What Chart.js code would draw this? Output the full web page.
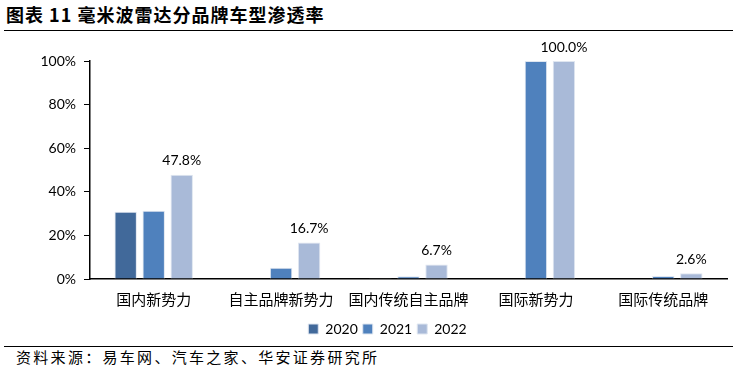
<!DOCTYPE html>
<html>
<head>
<meta charset="utf-8">
<script src="https://cdn.jsdelivr.net/npm/chart.js@4"></script>
<style>
  body { margin: 0; background: #fff; width: 737px; height: 373px; position: relative; overflow: hidden; }
  #title { position: absolute; left: 6px; top: 1px; font: bold 18px "Noto Sans CJK SC", sans-serif; color: #000; letter-spacing: 1px; }
  .rule { position: absolute; left: 4px; width: 729px; height: 0; border-top: 1.5px solid #000; }
  #box { position: absolute; left: 0; top: 36px; width: 737px; height: 308px; }
  #source { position: absolute; left: 16px; top: 346px; font: 15px "Noto Sans CJK SC", serif; color: #000; letter-spacing: 2.3px; }
</style>
</head>
<body>
<div id="title">图表 11 毫米波雷达分品牌车型渗透率</div>
<div class="rule" style="top:30px"></div>
<div id="box"><canvas id="myChart"></canvas></div>
<div class="rule" style="top:346px"></div>
<div id="source">资料来源：易车网、汽车之家、华安证券研究所</div>
<script>
const categories = ['国内新势力', '自主品牌新势力', '国内传统自主品牌', '国际新势力', '国际传统品牌'];
const years = ['2020', '2021', '2022'];
const data2020 = [30.8, null, 0.3, null, null];
const data2021 = [31.3, 5.2, 1.3, 100, 1.4];
const data2022 = [47.8, 16.7, 6.7, 100, 2.6];
const yTicks = [0, 20, 40, 60, 80, 100];
const colors = ['#41699A', '#4F81BD', '#A9BAD8'];

const ctx = document.getElementById('myChart');

// labels on top of the 2022 bars
const topLabels = {
  id: 'topLabels',
  afterLayout(chart) {
    // legend sits a bit right of centre and lower in the original
    chart.legend.left += 24;
    chart.legend.right += 24;
    chart.legend.top += 6;
    chart.legend.bottom += 6;
  },
  afterDatasetsDraw(chart) {
    const c = chart.ctx;
    const meta = chart.getDatasetMeta(2);
    c.save();
    c.font = '14px Lato, sans-serif';
    c.fillStyle = '#000';
    c.textAlign = 'center';
    c.textBaseline = 'bottom';
    meta.data.forEach((bar, i) => {
      const v = data2022[i];
      if (v == null) return;
      c.fillText(v.toFixed(1) + '%', bar.x, bar.y - 7);
    });
    c.restore();
  }
};

new Chart(ctx, {
  type: 'bar',
  data: {
    labels: categories,
    datasets: [
      { label: years[0], data: data2020, backgroundColor: colors[0], borderColor: '#dfe6f0', borderWidth: 1 },
      { label: years[1], data: data2021, backgroundColor: colors[1], borderColor: '#dfe6f0', borderWidth: 1 },
      { label: years[2], data: data2022, backgroundColor: colors[2], borderColor: '#dfe6f0', borderWidth: 1 }
    ]
  },
  options: {
    responsive: true,
    maintainAspectRatio: false,
    animation: false,
    categoryPercentage: 0.66,
    barPercentage: 0.8,
    layout: { padding: { top: 25, right: 10, left: 0, bottom: 4 } },
    plugins: {
      tooltip: { enabled: false },
      legend: {
        position: 'bottom',
        labels: {
          boxWidth: 10,
          boxHeight: 10,
          padding: 5,
          color: '#000',
          font: { family: 'Lato, sans-serif', size: 14 }
        }
      }
    },
    scales: {
      x: {
        grid: { display: false },
        border: { color: '#000', width: 1.5 },
        ticks: {
          color: '#000',
          padding: 3,
          maxRotation: 0,
          autoSkip: false,
          font: { family: '"Noto Sans CJK SC", sans-serif', size: 15 }
        }
      },
      y: {
        min: 0,
        max: 100,
        afterFit(scale) { scale.width = 90; },
        afterBuildTicks(scale) { scale.ticks = yTicks.map(v => ({ value: v })); },
        grid: { drawOnChartArea: false, color: '#000', tickLength: 6 },
        border: { color: '#000', width: 1.5 },
        ticks: {
          color: '#000',
          padding: 8,
          font: { family: 'Lato, sans-serif', size: 14 },
          callback: v => v + '%'
        }
      }
    }
  },
  plugins: [topLabels]
});
</script>
</body>
</html>
